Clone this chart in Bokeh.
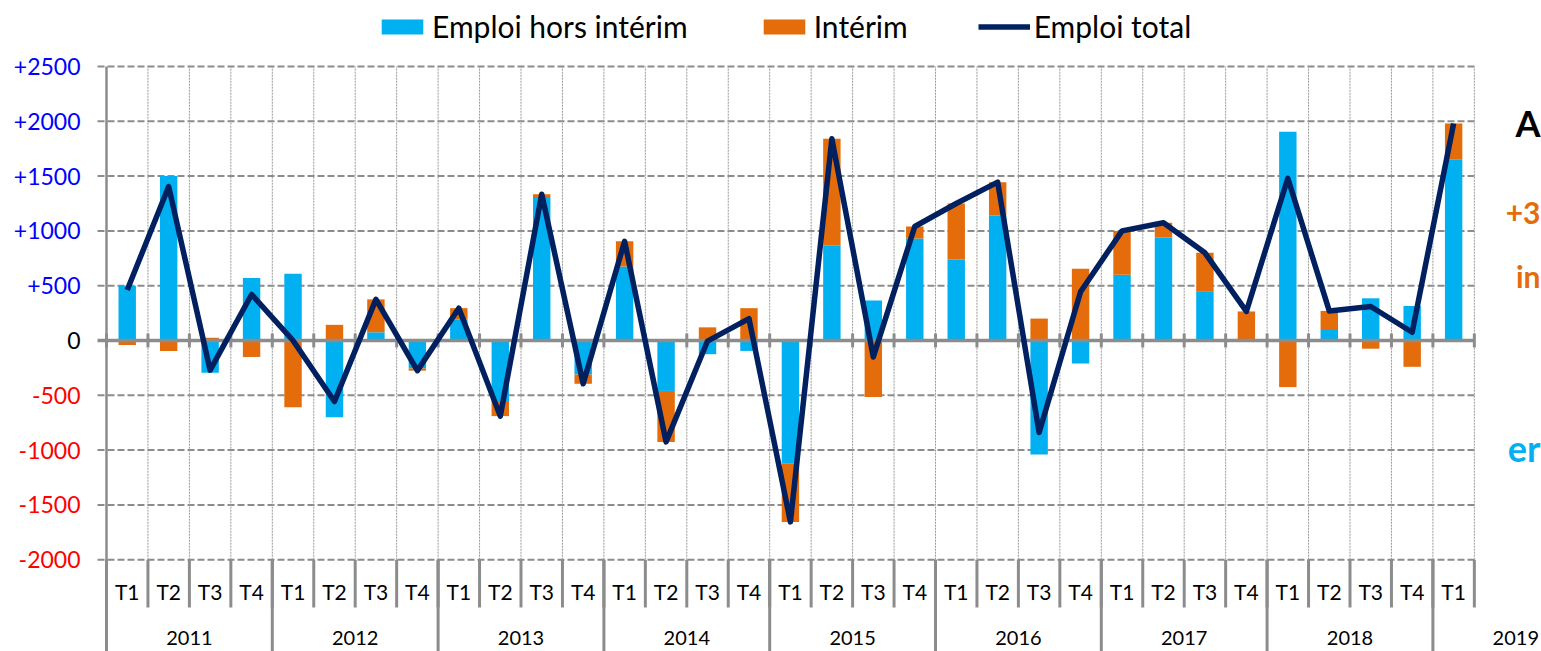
from bokeh.plotting import figure
from bokeh.models import Range1d, Legend, LegendItem
from bokeh.core.properties import value
from bokeh.embed import file_html
from bokeh.resources import INLINE

# ---------------- data ----------------
years = ["2011", "2012", "2013", "2014", "2015", "2016", "2017", "2018", "2019"]
quarters_in_year = [4, 4, 4, 4, 4, 4, 4, 4, 1]
quarters = ["T1", "T2", "T3", "T4", "T1", "T2", "T3", "T4",
            "T1", "T2", "T3", "T4", "T1", "T2", "T3", "T4",
            "T1", "T2", "T3", "T4", "T1", "T2", "T3", "T4",
            "T1", "T2", "T3", "T4", "T1", "T2", "T3", "T4",
            "T1"]
hors_interim = [500, 1500, -295, 570, 610, -700, 75, -255,
                190, -560, 1300, -310, 675, -460, -125, -95,
                -1125, 865, 365, 930, 740, 1140, -1040, -210,
                600, 940, 450, 0, 1905, 105, 385, 315,
                1650]
interim = [-40, -95, 25, -150, -610, 143, 300, -20,
           105, -130, 35, -85, 230, -465, 120, 295,
           -530, 975, -515, 110, 510, 305, 200, 655,
           400, 135, 350, 265, -425, 165, -75, -240,
           330]
emploi_total = [460, 1405, -270, 420, 0, -557, 375, -275,
                295, -690, 1335, -395, 905, -925, -5, 200,
                -1655, 1840, -150, 1040, 1250, 1445, -840, 445,
                1000, 1075, 800, 265, 1480, 270, 310, 75,
                1980]
ytick_values = [2500, 2000, 1500, 1000, 500, 0, -500, -1000, -1500, -2000]
ytick_labels = ["+2500", "+2000", "+1500", "+1000", "+500", "0",
                "-500", "-1000", "-1500", "-2000"]
series_names = ["Emploi hors intérim", "Intérim", "Emploi total"]
side_texts = ["A", "+3", "in", "er"]

# ---------------- geometry ----------------
W, H = 1541, 651
PX_X = 41.45      # px per quarter
X0 = 106          # canvas x of the value axis
Y0 = 340          # canvas y of zero
PX_Y = 0.1096     # px per unit

def dx(px):
    return px / PX_X

def vy(cy):
    return (Y0 - cy) / PX_Y

n = len(quarters)
xc = [i + 0.5 for i in range(n)]
ymin_grid = min(ytick_values)
ymax_grid = max(ytick_values)
y_bottom = -(H - Y0) / PX_Y

CYAN = "#00B0F0"
ORANGE = "#E46C0A"
NAVY = "#002060"
GRAY = "#8c8c8c"

p = figure(width=W, height=H,
           x_range=Range1d(-X0 / PX_X, (W - X0) / PX_X),
           y_range=Range1d(y_bottom, Y0 / PX_Y),
           x_axis_type=None, y_axis_type=None,
           output_backend="svg", toolbar_location=None,
           min_border=0, outline_line_color=None,
           background_fill_color="white", border_fill_color="white")

# grid lines
hvals = [v for v in ytick_values if v != 0]
p.segment(x0=[-dx(9)] * len(hvals), y0=hvals, x1=[n] * len(hvals), y1=hvals,
          line_color=GRAY, line_width=2, line_dash="7 3")
vb = list(range(1, n + 1))
p.segment(x0=vb, y0=[ymin_grid] * len(vb), x1=vb, y1=[ymax_grid] * len(vb),
          line_color="#9a9a9a", line_width=1, line_dash="2 1")

# stacked bars
c_bot, c_top, o_bot, o_top = [], [], [], []
for c, o in zip(hors_interim, interim):
    c_bot.append(0)
    c_top.append(c)
    if c != 0 and (c > 0) == (o > 0):
        o_bot.append(c)
        o_top.append(c + o)
    else:
        o_bot.append(0)
        o_top.append(o)
r_c = p.vbar(x=xc, width=0.42, bottom=c_bot, top=c_top,
             fill_color=CYAN, line_color=None)
r_o = p.vbar(x=xc, width=0.42, bottom=o_bot, top=o_top,
             fill_color=ORANGE, line_color=None)

# zero axis line and its ticks
p.segment(x0=[-dx(9)], y0=[0], x1=[n], y1=[0], line_color=GRAY, line_width=3.5)
tb = list(range(0, n + 1))
p.segment(x0=tb, y0=[vy(Y0 + 7)] * len(tb), x1=tb, y1=[vy(Y0 - 7)] * len(tb),
          line_color=GRAY, line_width=3)

# left axis line
p.segment(x0=[0], y0=[ymax_grid], x1=[0], y1=[y_bottom],
          line_color=GRAY, line_width=2.5)

# category separators
qy_end = vy(607)
p.segment(x0=tb, y0=[ymin_grid] * len(tb), x1=tb, y1=[qy_end] * len(tb),
          line_color=GRAY, line_width=3)
year_starts = []
s = 0
for k in quarters_in_year:
    year_starts.append(s)
    s += k
p.segment(x0=year_starts, y0=[ymin_grid] * len(year_starts), x1=year_starts,
          y1=[y_bottom] * len(year_starts), line_color=GRAY, line_width=3)

# total line
r_t = p.line(xc, emploi_total, line_color=NAVY, line_width=5.5, line_join="round")

# y tick labels
ycolors = ["#0000FF" if v > 0 else ("#000000" if v == 0 else "#FF0000") for v in ytick_values]
p.text(x=[-dx(26)] * len(ytick_values), y=ytick_values, text=ytick_labels,
       text_color=ycolors, text_font=value("Lato"), text_font_size=value("23px"),
       text_align="right", text_baseline="middle")

# quarter labels
p.text(x=xc, y=[vy(591)] * n, text=quarters, text_color="#000000",
       text_font=value("Lato"), text_font_size=value("21px"),
       text_align="center", text_baseline="middle")

# year labels
p.text(x=[st + 2 for st in year_starts], y=[vy(637)] * len(years), text=years,
       text_color="#000000", text_font=value("Lato"), text_font_size=value("20px"),
       text_align="center", text_baseline="middle")

# side annotation fragments (at the right edge)
xr = dx(W - 1 - X0)
p.text(x=[xr], y=[vy(122)], text=[side_texts[0]], text_color="#000000",
       text_font=value("Lato"), text_font_size=value("36px"), text_font_style="bold",
       text_align="right", text_baseline="middle")
p.text(x=[xr], y=[vy(212)], text=[side_texts[1]], text_color=ORANGE,
       text_font=value("Lato"), text_font_size=value("30px"), text_font_style="bold",
       text_align="right", text_baseline="middle")
p.text(x=[xr], y=[vy(275)], text=[side_texts[2]], text_color=ORANGE,
       text_font=value("Lato"), text_font_size=value("30px"), text_font_style="bold",
       text_align="right", text_baseline="middle")
p.text(x=[xr], y=[vy(447)], text=[side_texts[3]], text_color=CYAN,
       text_font=value("Lato"), text_font_size=value("36px"), text_font_style="bold",
       text_align="right", text_baseline="middle")

# legend
legend = Legend(items=[LegendItem(label=series_names[0], renderers=[r_c]),
                       LegendItem(label=series_names[1], renderers=[r_o]),
                       LegendItem(label=series_names[2], renderers=[r_t])],
                orientation="horizontal", location=(376, H - 26 - 18),
                glyph_width=52, glyph_height=19, label_standoff=4, spacing=70,
                padding=0, margin=0, label_height=36,
                label_text_font="Lato", label_text_font_size="30px",
                label_text_color="#000000",
                border_line_color=None, background_fill_alpha=0)
p.add_layout(legend)

open("out.html", "w").write(file_html(p, INLINE))
